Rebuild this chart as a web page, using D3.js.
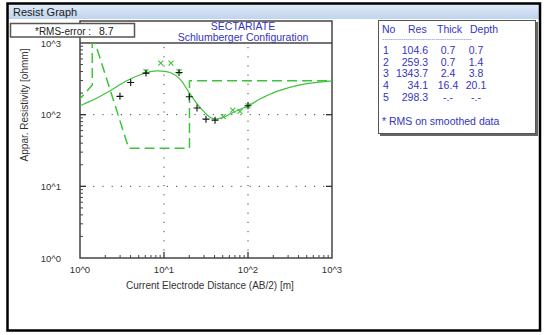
<!DOCTYPE html>
<html>
<head>
<meta charset="utf-8">
<script src="https://cdn.jsdelivr.net/npm/d3@7"></script>
<style>
  body { margin: 0; background: #fff; }
  text { font-family: Arial, "Liberation Sans", sans-serif; }
</style>
</head>
<body>
<svg id="chart" width="547" height="335"></svg>
<script>
// smooth model response curve
var curveX = [1, 1.51, 2.28, 3.6, 6.22, 8.19, 11.8, 15.5, 20.4, 26.8, 35.3, 40.5, 50.8, 66.8, 101, 139, 220, 416, 1000];
var curveY = [133, 165, 215, 297, 387, 408, 387, 313, 194, 126, 91.8, 87.1, 91.8, 108, 133, 165, 211, 261, 297];

// field data (+)
var fieldX = [2.99, 4.01, 6.1, 15.1, 20.0, 24.7, 31.6, 40.5, 100];
var fieldY = [180, 281, 380, 387, 178, 124, 86.6, 83.9, 133];

// smoothed data (x)
var smoothX = [6.1, 9.14, 12.1, 15.1, 50.8, 65.8, 80.3, 100];
var smoothY = [399, 523, 523, 399, 93.8, 116, 111, 133];

// layered model (dashed)
var modelX = [0.7, 1.4, 1.4, 3.8, 20.1, 20.1, 1000];
var modelY = [104.6, 259.3, 1343.7, 34.1, 34.1, 298.3, 298.3];

// layer table
var layerNo = ['1', '2', '3', '4', '5'];
var layerRes = ['104.6', '259.3', '1343.7', '34.1', '298.3'];
var layerThick = ['0.7', '0.7', '2.4', '16.4', '-.-'];
var layerDepth = ['0.7', '1.4', '3.8', '20.1', '-.-'];

var decades = [1, 10, 100, 1000];
var decadeLabels = ['10^0', '10^1', '10^2', '10^3'];

var svg = d3.select('#chart');
var green = '#3cc43c';
var blue = '#3434c0';

// window frame + title bar
var grad = svg.append('defs').append('linearGradient')
  .attr('id', 'tb').attr('x1', 0).attr('x2', 0).attr('y1', 0).attr('y2', 1);
grad.append('stop').attr('offset', '0%').attr('stop-color', '#e0ebf8');
grad.append('stop').attr('offset', '100%').attr('stop-color', '#bfd4ee');
svg.append('rect').attr('x', 8).attr('y', 4).attr('width', 532).attr('height', 15).attr('fill', 'url(#tb)');
svg.append('text').attr('x', 13).attr('y', 16).text('Resist Graph')
  .attr('font-size', '11px').attr('fill', '#1a1a1a');
svg.append('rect').attr('x', 7.5).attr('y', 3.5).attr('width', 532.5).attr('height', 327)
  .attr('fill', 'none').attr('stroke', '#000').attr('stroke-width', 2.5);

var pLeft = 80, pRight = 332, pTop = 43, pBottom = 258;
var xScale = d3.scaleLog().domain([1, 1000]).range([pLeft, pRight]);
var yScale = d3.scaleLog().domain([1, 1000]).range([pBottom, pTop]);

// title box
svg.append('rect').attr('x', pLeft).attr('y', 21).attr('width', pRight - pLeft).attr('height', pBottom - 21)
  .attr('fill', '#fff').attr('stroke', '#444').attr('stroke-width', 1.5);
svg.append('line').attr('x1', pLeft).attr('x2', pRight).attr('y1', pTop).attr('y2', pTop)
  .attr('stroke', '#444').attr('stroke-width', 1.5);
svg.append('text').attr('x', 243).attr('y', 30).attr('text-anchor', 'middle')
  .attr('font-size', '10.5px').attr('fill', blue).text('SECTARIATE');
svg.append('text').attr('x', 243).attr('y', 41).attr('text-anchor', 'middle')
  .attr('font-size', '10.5px').attr('fill', blue).text('Schlumberger Configuration');

// dotted grid at decades
var inner = decades.slice(1, 3);
svg.selectAll('.gx').data(inner).enter().append('line')
  .attr('x1', function (d) { return xScale(d); }).attr('x2', function (d) { return xScale(d); })
  .attr('y1', pTop + 4).attr('y2', pBottom)
  .attr('stroke', '#444').attr('stroke-dasharray', '1.2,8');
svg.selectAll('.gy').data(inner).enter().append('line')
  .attr('y1', function (d) { return yScale(d); }).attr('y2', function (d) { return yScale(d); })
  .attr('x1', pLeft + 4).attr('x2', pRight)
  .attr('stroke', '#444').attr('stroke-dasharray', '1.2,8');

// minor + major ticks
var minors = [];
[1, 10, 100].forEach(function (b) { for (var k = 2; k <= 9; k++) minors.push(b * k); });
svg.selectAll('.mty').data(minors).enter().append('line')
  .attr('x1', pLeft).attr('x2', pLeft + 3)
  .attr('y1', function (d) { return yScale(d); }).attr('y2', function (d) { return yScale(d); })
  .attr('stroke', '#444');
svg.selectAll('.mtx').data(minors).enter().append('line')
  .attr('y1', pBottom).attr('y2', pBottom - 3)
  .attr('x1', function (d) { return xScale(d); }).attr('x2', function (d) { return xScale(d); })
  .attr('stroke', '#444');
svg.selectAll('.Mty').data(inner).enter().append('line')
  .attr('x1', pLeft).attr('x2', pLeft + 6)
  .attr('y1', function (d) { return yScale(d); }).attr('y2', function (d) { return yScale(d); })
  .attr('stroke', '#333').attr('stroke-width', 1.3);
svg.selectAll('.Mtr').data(inner).enter().append('line')
  .attr('x1', pRight).attr('x2', pRight - 6)
  .attr('y1', function (d) { return yScale(d); }).attr('y2', function (d) { return yScale(d); })
  .attr('stroke', '#333').attr('stroke-width', 1.3);
svg.selectAll('.Mtx').data(inner).enter().append('line')
  .attr('y1', pBottom).attr('y2', pBottom - 6)
  .attr('x1', function (d) { return xScale(d); }).attr('x2', function (d) { return xScale(d); })
  .attr('stroke', '#333').attr('stroke-width', 1.3);

// tick labels
svg.selectAll('.lx').data(decades).enter().append('text')
  .attr('x', function (d) { return xScale(d); }).attr('y', 273)
  .attr('text-anchor', 'middle').attr('font-size', '9.5px').attr('fill', '#333')
  .text(function (d, i) { return decadeLabels[i]; });
svg.selectAll('.ly').data(decades).enter().append('text')
  .attr('x', 61).attr('y', function (d) { return yScale(d) + 3.5; })
  .attr('text-anchor', 'end').attr('font-size', '9.5px').attr('fill', '#333')
  .text(function (d, i) { return decadeLabels[i]; });

svg.append('text').attr('x', 126).attr('y', 289)
  .attr('font-size', '10px').attr('fill', '#333')
  .text('Current Electrode Distance (AB/2) [m]');
svg.append('text').attr('transform', 'translate(28,105) rotate(-90)')
  .attr('text-anchor', 'middle').attr('font-size', '10px').attr('fill', '#333')
  .text('Appar. Resistivity [ohmm]');

// clip for plot contents
svg.append('clipPath').attr('id', 'clip').append('rect')
  .attr('x', pLeft).attr('y', pTop).attr('width', pRight - pLeft).attr('height', pBottom - pTop);
var plot = svg.append('g').attr('clip-path', 'url(#clip)');

var modelLine = d3.line()
  .x(function (d, i) { return xScale(modelX[i]); })
  .y(function (d, i) { return yScale(modelY[i]); });
plot.append('path').attr('d', modelLine(modelX))
  .attr('fill', 'none').attr('stroke', green).attr('stroke-width', 1.5)
  .attr('stroke-dasharray', '10,5');

var smoothLine = d3.line()
  .x(function (d, i) { return xScale(curveX[i]); })
  .y(function (d, i) { return yScale(curveY[i]); })
  .curve(d3.curveCatmullRom);
plot.append('path').attr('d', smoothLine(curveX))
  .attr('fill', 'none').attr('stroke', green).attr('stroke-width', 1.2);

// smoothed data x markers
var s = 2.5;
plot.selectAll('.sx').data(smoothX).enter().append('path')
  .attr('d', function (d, i) {
    var cx = xScale(d), cy = yScale(smoothY[i]);
    return 'M' + (cx - s) + ',' + (cy - s) + 'L' + (cx + s) + ',' + (cy + s) +
      'M' + (cx - s) + ',' + (cy + s) + 'L' + (cx + s) + ',' + (cy - s);
  })
  .attr('stroke', green).attr('stroke-width', 1.1);

// field data + markers
var p = 3.5;
plot.selectAll('.fx').data(fieldX).enter().append('path')
  .attr('d', function (d, i) {
    var cx = xScale(d), cy = yScale(fieldY[i]);
    return 'M' + (cx - p) + ',' + cy + 'L' + (cx + p) + ',' + cy +
      'M' + cx + ',' + (cy - p) + 'L' + cx + ',' + (cy + p);
  })
  .attr('stroke', '#111').attr('stroke-width', 1.1);

// RMS box
svg.append('rect').attr('x', 10.5).attr('y', 23.5).attr('width', 124).attr('height', 13.5)
  .attr('fill', '#fff').attr('stroke', '#555').attr('stroke-width', 1.5);
svg.append('text').attr('x', 35).attr('y', 34.5).attr('font-size', '10px').attr('fill', '#222')
  .text('*RMS-error :');
svg.append('text').attr('x', 99).attr('y', 34.5).attr('font-size', '10.5px').attr('fill', '#222')
  .text('8.7');

// layer table panel
svg.append('rect').attr('x', 380).attr('y', 22).attr('width', 158).attr('height', 114)
  .attr('fill', '#666');
svg.append('rect').attr('x', 378.5).attr('y', 20.5).attr('width', 157).attr('height', 113)
  .attr('fill', '#fff').attr('stroke', '#555').attr('stroke-width', 1);

var head = [['No', 382], ['Res', 408], ['Thick', 437], ['Depth', 470]];
svg.selectAll('.hd').data(head).enter().append('text')
  .attr('x', function (d) { return d[1]; }).attr('y', 33)
  .attr('font-size', '10.5px').attr('fill', blue)
  .text(function (d) { return d[0]; });
svg.append('text').attr('x', 382).attr('y', 41).attr('font-size', '7px').attr('fill', '#8a8ad8')
  .attr('textLength', 90).text('------------------------------------------');

var rowY = function (i) { return 54 + i * 11.7; };
var cols = [[layerNo, 383, 'start'], [layerRes, 428, 'end'], [layerThick, 448, 'middle'], [layerDepth, 476, 'middle']];
cols.forEach(function (c) {
  svg.selectAll(null).data(c[0]).enter().append('text')
    .attr('x', c[1]).attr('y', function (d, i) { return rowY(i); })
    .attr('text-anchor', c[2]).attr('font-size', '10.5px').attr('fill', blue)
    .text(function (d) { return d; });
});
svg.append('text').attr('x', 382).attr('y', 125).attr('font-size', '10.5px').attr('fill', blue)
  .text('* RMS on smoothed data');
</script>
</body>
</html>
